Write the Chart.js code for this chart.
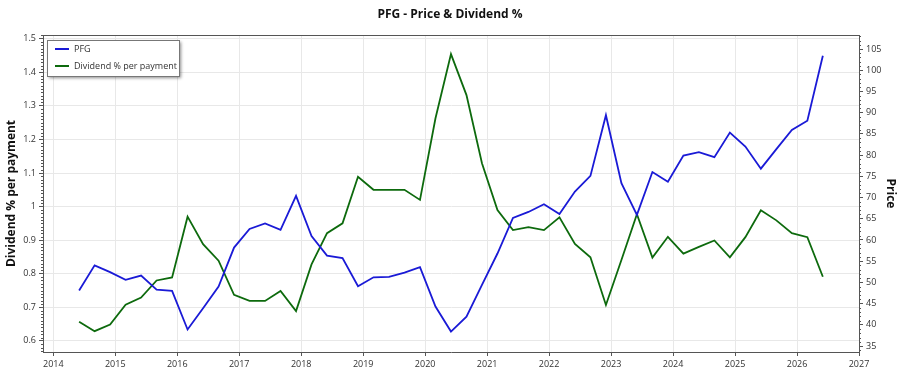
<!DOCTYPE html>
<html>
<head>
<meta charset="utf-8">
<script src="https://cdn.jsdelivr.net/npm/chart.js@4.4.1/dist/chart.umd.min.js"></script>
<style>
  html, body { margin: 0; padding: 0; background: #fff; }
  #wrap { width: 900px; height: 375px; }
</style>
</head>
<body>
<div id="wrap"><canvas id="c" width="900" height="375"></canvas></div>
<script>
// ---- data ----
const dates = [
  '2014-06','2014-09','2014-12','2015-03','2015-06','2015-09','2015-12','2016-03','2016-06','2016-09',
  '2016-12','2017-03','2017-06','2017-09','2017-12','2018-03','2018-06','2018-09','2018-12','2019-03',
  '2019-06','2019-09','2019-12','2020-03','2020-06','2020-09','2020-12','2021-03','2021-06','2021-09',
  '2021-12','2022-03','2022-06','2022-09','2022-12','2023-03','2023-06','2023-09','2023-12','2024-03',
  '2024-06','2024-09','2024-12','2025-03','2025-06','2025-09','2025-12','2026-03','2026-06'
];
const price = [
  48.1, 54.0, 52.4, 50.6, 51.6, 48.3, 48.0, 38.9, 43.9, 49.0,
  58.2, 62.6, 63.9, 62.4, 70.4, 60.9, 56.3, 55.7, 49.1, 51.2,
  51.3, 52.3, 53.6, 44.3, 38.4, 41.9, 49.4, 56.8, 65.2, 66.6,
  68.4, 66.1, 71.4, 75.1, 89.4, 73.4, 65.9, 76.0, 73.7, 79.9,
  80.7, 79.5, 85.3, 82.0, 76.8, 81.4, 85.9, 88.1, 103.4
];
const dividendPct = [
  0.657, 0.629, 0.649, 0.708, 0.729, 0.780, 0.789, 0.970, 0.888, 0.839,
  0.737, 0.719, 0.719, 0.749, 0.689, 0.828, 0.921, 0.950, 1.089, 1.050,
  1.050, 1.050, 1.020, 1.263, 1.454, 1.332, 1.129, 0.990, 0.930, 0.939,
  0.930, 0.968, 0.889, 0.849, 0.707, 0.841, 0.977, 0.848, 0.910, 0.860,
  0.880, 0.899, 0.849, 0.909, 0.989, 0.959, 0.921, 0.909, 0.791
];
const yearTicks = [2014,2015,2016,2017,2018,2019,2020,2021,2022,2023,2024,2025,2026,2027];
const leftTicks = [0.6,0.7,0.8,0.9,1.0,1.1,1.2,1.3,1.4,1.5];
const rightTicks = [35,40,45,50,55,60,65,70,75,80,85,90,95,100,105];

// ---- helpers ----
function toYear(s) {
  const [y, m] = s.split('-').map(Number);
  return y + (m - 1) / 12;
}
const xs = dates.map(toYear);
const priceData = xs.map((x, i) => ({ x, y: price[i] }));
const divData = xs.map((x, i) => ({ x, y: dividendPct[i] }));

const FONT = "'Open Sans', 'Noto Sans', sans-serif";
const TXT = '#333';
const AXIS = '#555';
const GRID = '#e8e8e8';

function fixTicks(arr) {
  return (s) => { s.ticks = arr.map(v => ({ value: v })); };
}

const minorTicks = {
  id: 'minorTicks',
  afterDraw(chart) {
    const ctx = chart.ctx;
    const ca = chart.chartArea;
    const yl = chart.scales.y, yr = chart.scales.y1;
    ctx.save();
    ctx.strokeStyle = AXIS;
    ctx.lineWidth = 1;
    ctx.beginPath();
    for (let k = 57; k <= 151; k++) {
      if (k % 10 === 0) continue;
      const p = Math.round(yl.getPixelForValue(k / 100)) + 0.5;
      ctx.moveTo(ca.left - 2, p); ctx.lineTo(ca.left, p);
    }
    for (let k = 34; k <= 108; k++) {
      if (k % 5 === 0) continue;
      const p = Math.round(yr.getPixelForValue(k)) + 0.5;
      ctx.moveTo(ca.right, p); ctx.lineTo(ca.right + 2, p);
    }
    ctx.stroke();
    // top frame line
    ctx.beginPath();
    ctx.moveTo(ca.left, ca.top + 0.5);
    ctx.lineTo(ca.right, ca.top + 0.5);
    ctx.stroke();
    ctx.restore();
  }
};

const boxLegend = {
  id: 'boxLegend',
  afterDraw(chart) {
    const ctx = chart.ctx;
    const ca = chart.chartArea;
    const x = ca.left + 4, y = ca.top + 5, w = 132, h = 36;
    ctx.save();
    ctx.shadowColor = 'rgba(0,0,0,0.45)';
    ctx.shadowBlur = 3;
    ctx.shadowOffsetX = 2;
    ctx.shadowOffsetY = 2;
    ctx.fillStyle = '#fff';
    ctx.fillRect(x, y, w, h);
    ctx.restore();
    ctx.save();
    ctx.strokeStyle = '#777';
    ctx.lineWidth = 1;
    ctx.strokeRect(x + 0.5, y + 0.5, w, h);
    ctx.font = "9px " + FONT;
    ctx.textBaseline = 'middle';
    chart.data.datasets.forEach((ds, i) => {
      const ly = y + 9 + i * 17;
      ctx.strokeStyle = ds.borderColor;
      ctx.lineWidth = 2;
      ctx.beginPath();
      ctx.moveTo(x + 8, ly); ctx.lineTo(x + 22, ly);
      ctx.stroke();
      ctx.fillStyle = TXT;
      ctx.fillText(ds.label, x + 27, ly);
    });
    ctx.restore();
  }
};

new Chart(document.getElementById('c'), {
  type: 'line',
  data: {
    datasets: [
      { label: 'PFG', data: priceData, yAxisID: 'y1', borderColor: '#1a1ad6', borderWidth: 1.8,
        pointRadius: 0, tension: 0, fill: false },
      { label: 'Dividend % per payment', data: divData, yAxisID: 'y', borderColor: '#0d6a0d', borderWidth: 1.8,
        pointRadius: 0, tension: 0, fill: false }
    ]
  },
  options: {
    responsive: false,
    animation: false,
    layout: { padding: 0 },
    plugins: {
      legend: { display: false },
      tooltip: { enabled: false },
      title: {
        display: true,
        text: 'PFG - Price & Dividend %',
        color: '#111',
        font: { family: FONT, size: 12, weight: 'bold' },
        padding: { top: 7, bottom: 13.6 }
      }
    },
    scales: {
      x: {
        type: 'linear',
        min: 2013.834,
        max: 2027,
        afterBuildTicks: fixTicks(yearTicks),
        afterFit: (s) => { s.height = 23; },
        ticks: { color: TXT, font: { family: FONT, size: 9 }, padding: 3, maxRotation: 0,
          callback: (v) => String(v) },
        grid: { color: GRID, tickColor: AXIS, tickLength: 4, lineWidth: 1 },
        border: { color: AXIS, width: 1 }
      },
      y: {
        position: 'left',
        min: 0.567,
        max: 1.511,
        afterBuildTicks: fixTicks(leftTicks),
        afterFit: (s) => { s.width = 43; },
        ticks: { color: TXT, font: { family: FONT, size: 9 }, padding: 3,
          callback: (v) => String(Math.round(v * 10) / 10) },
        grid: { color: GRID, tickColor: AXIS, tickLength: 4 },
        border: { color: AXIS, width: 1 },
        title: { display: true, text: 'Dividend % per payment', color: '#111',
          font: { family: FONT, size: 12, weight: 'bold' }, padding: { top: 4 } }
      },
      y1: {
        position: 'right',
        min: 33.59,
        max: 108.3,
        afterBuildTicks: fixTicks(rightTicks),
        afterFit: (s) => { s.width = 41; },
        ticks: { color: TXT, font: { family: FONT, size: 9 }, padding: 3,
          callback: (v) => String(v) },
        grid: { drawOnChartArea: false, tickColor: AXIS, tickLength: 4 },
        border: { color: AXIS, width: 1 },
        title: { display: true, text: 'Price', color: '#111',
          font: { family: FONT, size: 12, weight: 'bold' }, padding: { top: 2 } }
      }
    }
  },
  plugins: [minorTicks, boxLegend]
});
</script>
</body>
</html>
